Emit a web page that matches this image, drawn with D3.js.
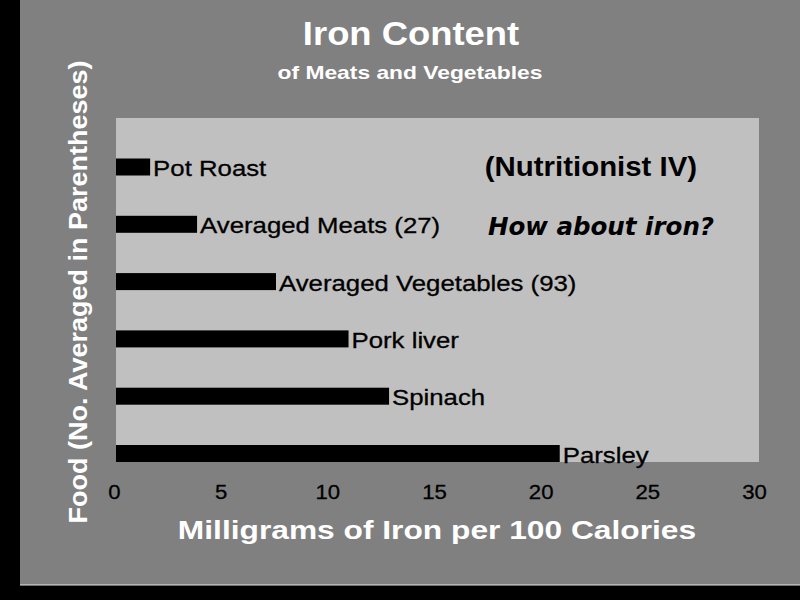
<!DOCTYPE html>
<html>
<head>
<meta charset="utf-8">
<script src="https://cdn.jsdelivr.net/npm/d3@7"></script>
<style>
  body { margin: 0; background: #000; }
  svg { display: block; font-family: "Liberation Sans", Arial, sans-serif; }
</style>
</head>
<body>
<div id="chart"></div>
<script>
// data
const foods = ["Pot Roast", "Averaged Meats (27)", "Averaged Vegetables (93)", "Pork liver", "Spinach", "Parsley"];
const iron = [1.6, 3.8, 7.5, 10.9, 12.8, 20.8];
const xTicks = [0, 5, 10, 15, 20, 25, 30];

const width = 800;
const height = 600;

const svg = d3.select("#chart")
  .append("svg")
  .attr("width", width)
  .attr("height", height);

// the original text is set wider than Liberation Sans, so widen glyphs a bit
function stretch(sel, k) {
  sel.each(function () {
    const w = this.getComputedTextLength();
    d3.select(this)
      .attr("textLength", w * k)
      .attr("lengthAdjust", "spacingAndGlyphs");
  });
}

// backgrounds
svg.append("rect").attr("width", width).attr("height", height).attr("fill", "#000");
svg.append("rect")
  .attr("x", 20).attr("y", 0)
  .attr("width", 780).attr("height", 585)
  .attr("fill", "#808080");
svg.append("line")
  .attr("x1", 20).attr("x2", 800)
  .attr("y1", 585).attr("y2", 585)
  .attr("stroke", "#e8e8e8").attr("stroke-width", 1);

// plot area
const plot = { left: 116, right: 759, top: 118, bottom: 462 };
svg.append("rect")
  .attr("x", plot.left).attr("y", plot.top)
  .attr("width", plot.right - plot.left)
  .attr("height", plot.bottom - plot.top)
  .attr("fill", "#c0c0c0");

const x = d3.scaleLinear().domain([0, 30]).range([116, 756]);
const y = d3.scalePoint().domain(foods).range([167, 453.5]);
const barH = 17;

const rows = foods.map((f, i) => ({ food: f, value: iron[i] }));

// bars
svg.selectAll(".bar")
  .data(rows)
  .enter()
  .append("rect")
  .attr("class", "bar")
  .attr("x", x(0))
  .attr("y", d => y(d.food) - barH / 2)
  .attr("width", d => x(d.value) - x(0))
  .attr("height", barH)
  .attr("fill", "#000");

// labels at the end of each bar
svg.selectAll(".lbl")
  .data(rows)
  .enter()
  .append("text")
  .attr("class", "lbl")
  .attr("x", d => x(d.value) + 3)
  .attr("y", d => y(d.food) + barH / 2 + 0.5)
  .attr("font-size", 22.5)
  .attr("fill", "#000")
  .attr("stroke", "#000").attr("stroke-width", 0.3)
  .text(d => d.food)
  .call(stretch, 1.145);

// x axis (labels only)
const xAxis = svg.append("g")
  .attr("transform", "translate(-2," + plot.bottom + ")")
  .call(d3.axisBottom(x).tickValues(xTicks).tickSize(0).tickPadding(0).tickFormat(d3.format("d")));
xAxis.select(".domain").remove();
xAxis.selectAll("text")
  .attr("y", 37)
  .attr("dy", 0)
  .attr("font-size", 20.5)
  .attr("font-family", "'Liberation Sans', Arial, sans-serif")
  .attr("fill", "#000")
  .attr("stroke", "#000").attr("stroke-width", 0.3)
  .call(stretch, 1.08);

// titles
svg.append("text")
  .attr("x", 411).attr("y", 45)
  .attr("text-anchor", "middle")
  .attr("font-size", 34).attr("font-weight", "bold")
  .attr("fill", "#fff")
  .text("Iron Content")
  .call(stretch, 1.07);

svg.append("text")
  .attr("x", 410).attr("y", 79)
  .attr("text-anchor", "middle")
  .attr("font-size", 19).attr("font-weight", "bold")
  .attr("fill", "#fff")
  .text("of Meats and Vegetables")
  .call(stretch, 1.2);

svg.append("text")
  .attr("x", 437).attr("y", 539)
  .attr("text-anchor", "middle")
  .attr("font-size", 26).attr("font-weight", "bold")
  .attr("fill", "#fff")
  .text("Milligrams of Iron per 100 Calories")
  .call(stretch, 1.22);

svg.append("text")
  .attr("transform", "translate(87,292) rotate(-90)")
  .attr("text-anchor", "middle")
  .attr("font-size", 25).attr("font-weight", "bold")
  .attr("fill", "#fff")
  .text("Food (No. Averaged in Parentheses)")
  .call(stretch, 1.08);

// notes inside the plot
svg.append("text")
  .attr("x", 591).attr("y", 176)
  .attr("text-anchor", "middle")
  .attr("font-size", 28).attr("font-weight", "bold")
  .attr("fill", "#000")
  .text("(Nutritionist IV)")
  .call(stretch, 1.05);

svg.append("text")
  .attr("x", 601).attr("y", 235)
  .attr("text-anchor", "middle")
  .attr("font-size", 25).attr("font-weight", "bold").attr("font-style", "italic")
  .attr("font-family", "'DejaVu Sans Condensed', 'DejaVu Sans', sans-serif")
  .attr("fill", "#000")
  .text("How about iron?")
  .call(stretch, 1.09);
</script>
</body>
</html>
